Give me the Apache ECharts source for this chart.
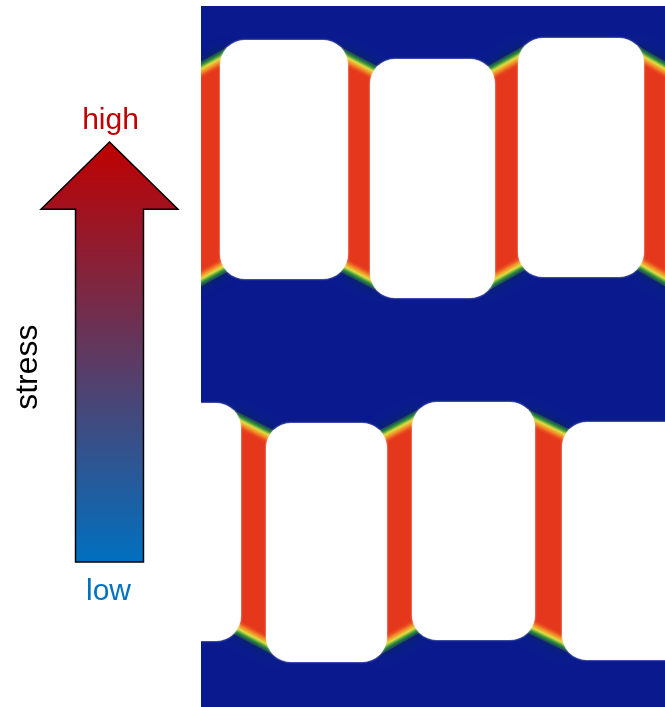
<!DOCTYPE html>
<html>
<head>
<meta charset="utf-8">
<script src="https://cdn.jsdelivr.net/npm/echarts@6/dist/echarts.min.js"></script>
<style>
  html, body { margin: 0; padding: 0; background: #ffffff; }
  #chart { width: 665px; height: 707px; }
</style>
</head>
<body>
<div id="chart"></div>
<script>
// Cell outlines of the two rows, [x0, x1, y0, y1] in µm (y grows downward).
const topRowCells = [
  [-140, -1, 53, 292],
  [19, 147, 34, 273],
  [169, 294, 53, 292],
  [317, 443, 32, 271],
  [465, 600, 53, 292]
];
const bottomRowCells = [
  [-130, 40, 397, 635],
  [65, 186, 417, 656],
  [211, 334, 396, 634],
  [361, 490, 416, 654]
];
// Field extent in µm.
const fieldWidth = 464;
const fieldHeight = 701;
// Stress scale shown by the arrow.
const stressScale = [[0, 1]];
const stressLabels = ['low', 'high', 'stress'];

// Walls sit between neighbouring cells in a row.
function wallsOf(row) {
  const out = [];
  for (let i = 0; i < row.length - 1; i++) out.push(row[i].concat(row[i + 1]));
  return out;
}
const walls = wallsOf(topRowCells).concat(wallsOf(bottomRowCells));
const cells = topRowCells.concat(bottomRowCells);

const CORNER = 25;
const BLUE = '#0a1a8e';
const RED = '#e5371c';
const capStops = [
  { offset: 0, color: '#0e4a5c' },
  { offset: 0.2, color: '#2e8c3c' },
  { offset: 0.42, color: '#dede40' },
  { offset: 0.62, color: '#f2962a' },
  { offset: 0.85, color: '#e84a1e' },
  { offset: 1, color: RED }
];

function capGradient(a, b, inward) {
  const ex = b[0] - a[0], ey = b[1] - a[1];
  const len = Math.hypot(ex, ey) || 1;
  let nx = -ey / len, ny = ex / len;
  if (ny * inward < 0) { nx = -nx; ny = -ny; }
  const mx = (a[0] + b[0]) / 2, my = (a[1] + b[1]) / 2;
  const G = 15;
  return {
    type: 'linear', global: true,
    x: mx, y: my, x2: mx + nx * G, y2: my + ny * G,
    colorStops: capStops
  };
}

function renderWall(params, api) {
  const L0 = api.coord([api.value(0), api.value(2)]);
  const L1 = api.coord([api.value(1), api.value(3)]);
  const R0 = api.coord([api.value(4), api.value(6)]);
  const R1 = api.coord([api.value(5), api.value(7)]);
  const k = CORNER * 0.29;
  const A = [L1[0] - k, L0[1] + k];
  const B = [R0[0] + k, R0[1] + k];
  const C = [R0[0] + k, R1[1] - k];
  const D = [L1[0] - k, L1[1] - k];
  const depth = 20;
  const topLow = Math.max(A[1], B[1]) + depth;
  const botHigh = Math.min(C[1], D[1]) - depth;
  return {
    type: 'group',
    children: [
      // soft dark halo where the wall meets the matrix
      { type: 'polygon', shape: { points: [A, B, C, D] },
        style: { fill: '#0b3a66', shadowBlur: 12, shadowColor: 'rgba(0,50,70,0.8)' } },
      { type: 'polygon', shape: { points: [A, B, C, D] }, style: { fill: RED } },
      { type: 'polygon', shape: { points: [A, B, [B[0], topLow], [A[0], topLow]] },
        style: { fill: capGradient(A, B, 1) } },
      { type: 'polygon', shape: { points: [D, C, [C[0], botHigh], [D[0], botHigh]] },
        style: { fill: capGradient(D, C, -1) } }
    ]
  };
}

function renderCell(params, api) {
  const p0 = api.coord([api.value(0), api.value(2)]);
  const p1 = api.coord([api.value(1), api.value(3)]);
  return {
    type: 'rect',
    shape: {
      x: Math.min(p0[0], p1[0]), y: Math.min(p0[1], p1[1]),
      width: Math.abs(p1[0] - p0[0]), height: Math.abs(p1[1] - p0[1]),
      r: CORNER
    },
    style: { fill: '#ffffff', shadowBlur: 2, shadowColor: 'rgba(255,255,255,0.8)' }
  };
}

function renderArrow(params, api) {
  const low = api.value(0), high = api.value(1);
  const headStart = 0.84;
  const tip = api.coord([0, high]);
  const base = api.coord([0, low]);
  const headL = api.coord([-1, headStart]);
  const headR = api.coord([1, headStart]);
  const shaftL = api.coord([-0.496, low]);
  const shaftR = api.coord([0.496, low]);
  const pts = [
    tip, [headR[0], headR[1]], [shaftR[0], headR[1]], [shaftR[0], shaftR[1]],
    [shaftL[0], shaftL[1]], [shaftL[0], headL[1]], [headL[0], headL[1]]
  ];
  const font = '30px "Liberation Sans", Arial, sans-serif';
  const sideFont = '32px "Liberation Sans", Arial, sans-serif';
  return {
    type: 'group',
    children: [
      {
        type: 'polygon', shape: { points: pts },
        style: {
          fill: { type: 'linear', global: true, x: 0, y: tip[1], x2: 0, y2: base[1],
            colorStops: [{ offset: 0, color: '#c00000' }, { offset: 1, color: '#0070c0' }] },
          stroke: '#000000', lineWidth: 1.5, lineJoin: 'miter'
        }
      },
      { type: 'text', x: tip[0] + 1, y: tip[1] - 21,
        style: { text: stressLabels[1], fill: '#c00000', font: font, align: 'center', verticalAlign: 'middle' } },
      { type: 'text', x: base[0] - 1, y: base[1] + 30,
        style: { text: stressLabels[0], fill: '#0070c0', font: font, align: 'center', verticalAlign: 'middle' } },
      { type: 'text', x: headL[0] - 13, y: api.coord([0, 0.464])[1], rotation: Math.PI / 2,
        style: { text: stressLabels[2], fill: '#000000', font: sideFont, align: 'center', verticalAlign: 'middle' } }
    ]
  };
}

const chart = echarts.init(document.getElementById('chart'), null, { renderer: 'canvas' });
chart.setOption({
  animation: false,
  backgroundColor: '#ffffff',
  grid: [
    { left: 201, top: 6, width: 464, height: 701, show: true, backgroundColor: BLUE, borderWidth: 0 },
    { left: 41, top: 142, width: 137, height: 420, show: false }
  ],
  xAxis: [
    { gridIndex: 0, type: 'value', min: 0, max: fieldWidth, show: false },
    { gridIndex: 1, type: 'value', min: -1, max: 1, show: false }
  ],
  yAxis: [
    { gridIndex: 0, type: 'value', min: 0, max: fieldHeight, inverse: true, show: false },
    { gridIndex: 1, type: 'value', min: 0, max: 1, show: false }
  ],
  series: [
    { type: 'custom', xAxisIndex: 0, yAxisIndex: 0, clip: true, data: walls, renderItem: renderWall, silent: true },
    { type: 'custom', xAxisIndex: 0, yAxisIndex: 0, clip: true, data: cells, renderItem: renderCell, silent: true },
    { type: 'custom', xAxisIndex: 1, yAxisIndex: 1, clip: false, data: stressScale, renderItem: renderArrow, silent: true }
  ]
});
</script>
</body>
</html>
